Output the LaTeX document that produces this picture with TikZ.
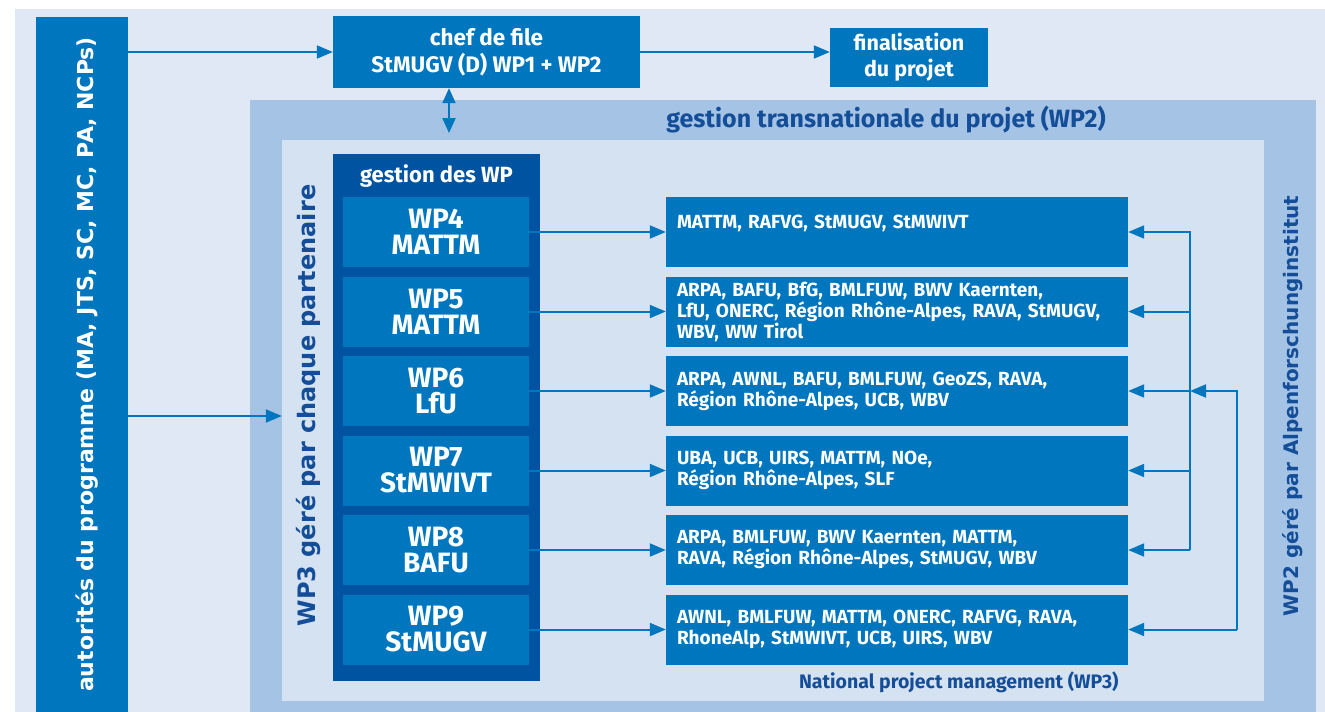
\documentclass[tikz,border=0pt]{standalone}
\usepackage{fontspec}
\setmainfont{Fira Sans}
\newfontfamily\widefont{DejaVu Sans}
\usetikzlibrary{arrows.meta}
\definecolor{bgblue}{HTML}{DFE8F4}
\definecolor{frameblue}{HTML}{A5C3E4}
\definecolor{innerblue}{HTML}{D5E2F2}
\definecolor{boxblue}{HTML}{0076BE}
\definecolor{darkbox}{HTML}{0053A0}
\definecolor{textblue}{HTML}{144E98}
\tikzset{box/.style={fill=boxblue, text=white, inner sep=0pt, align=center},
 wpbox/.style={box, minimum width=186pt, minimum height=70pt,
   font=\fontsize{28}{26}\selectfont\bfseries},
 resbox/.style={box, minimum width=462pt, minimum height=70pt, text width=440pt,
   align=left, font=\fontsize{19}{21}\selectfont\bfseries},
 line/.style={draw=boxblue, line width=2pt},
 link/.style={line, -{Triangle[length=16pt,width=13pt]}},
 dlink/.style={line, {Triangle[length=15pt,width=13pt]}-{Triangle[length=15pt,width=13pt]}},
 vtext/.style={rotate=90, anchor=base, inner sep=0pt},
 }

\begin{document}
\begin{tikzpicture}[x=1pt,y=-1pt]
        \useasboundingbox (0,0) rectangle (1325,712);
        \fill[bgblue] (15,9) rectangle (1325,712);
        % programme side
        \node[box, minimum width=92pt, minimum height=695pt] (prog) at (82,364.5) {};
        \node[vtext, text=white, font=\widefont\bfseries\fontsize{22}{22}\selectfont] (progtxt) at (93,364.5)
            {autorités du programme (MA, JTS, SC, MC, PA, NCPs)};
        \node[box, minimum width=307pt, minimum height=72pt, font=\fontsize{22.5}{27}\selectfont\bfseries] (chef) at (486.5,52)
            {chef de file\\StMUGV (D) WP1 + WP2};
        \node[box, minimum width=158pt, minimum height=59pt, font=\fontsize{21.5}{26}\selectfont\bfseries] (fin) at (909,57.5)
            {finalisation\\du projet};
        % frames
        \node[fill=frameblue, inner sep=0pt, minimum width=1066pt, minimum height=612pt] (gtp) at (783,406) {};
        \node[text=textblue, font=\fontsize{25}{25}\selectfont\bfseries] (gtptxt) at (886,120)
            {gestion transnationale du projet (WP2)};
        \node[fill=innerblue, inner sep=0pt, minimum width=982pt, minimum height=561pt] (inner) at (773,420.5) {};
        \node[vtext, text=textblue, font=\widefont\bfseries\fontsize{24}{24}\selectfont] (wp3txt) at (315,405.5)
            {WP3 géré par chaque partenaire};
        \node[vtext, text=textblue, font=\widefont\bfseries\fontsize{20}{20}\selectfont] (wp2txt) at (1298,406)
            {WP2 géré par Alpenforschunginstitut};
        \node[text=textblue, anchor=east, font=\fontsize{19.5}{19.5}\selectfont\bfseries] (nattxt) at (1122,682)
            {National project management (WP3)};
        % work packages
        \node[fill=darkbox, inner sep=0pt, minimum width=207pt, minimum height=527pt] (gdw) at (436.5,417.5) {};
        \node[text=white, font=\fontsize{22}{22}\selectfont\bfseries] (gdwtxt) at (436.5,176) {gestion des WP};
        \node[wpbox] (wp4) at (436,232) {WP4\\MATTM};
        \node[wpbox] (wp5) at (436,311.5) {WP5\\MATTM};
        \node[wpbox] (wp6) at (436,391) {WP6\\LfU};
        \node[wpbox] (wp7) at (436,470.5) {WP7\\StMWIVT};
        \node[wpbox] (wp8) at (436,550) {WP8\\BAFU};
        \node[wpbox] (wp9) at (436,629.5) {WP9\\StMUGV};
        % partners
        \node[resbox] (res4) at (897,232) {MATTM, RAFVG, StMUGV, StMWIVT\\\mbox{}};
        \node[resbox] (res5) at (897,311.5) {ARPA, BAFU, BfG, BMLFUW, BWV Kaernten,\\LfU, ONERC, Région Rhône-Alpes, RAVA, StMUGV,\\WBV, WW Tirol};
        \node[resbox] (res6) at (897,391) {ARPA, AWNL, BAFU, BMLFUW, GeoZS, RAVA,\\Région Rhône-Alpes, UCB, WBV};
        \node[resbox] (res7) at (897,470.5) {UBA, UCB, UIRS, MATTM, NOe,\\Région Rhône-Alpes, SLF};
        \node[resbox] (res8) at (897,550) {ARPA, BMLFUW, BWV Kaernten, MATTM,\\RAVA, Région Rhône-Alpes, StMUGV, WBV};
        \node[resbox] (res9) at (897,629.5) {AWNL, BMLFUW, MATTM, ONERC, RAFVG, RAVA,\\RhoneAlp, StMWIVT, UCB, UIRS, WBV};
        % arrows
        \coordinate (tp) at (449,133);
        \coordinate (fa) at (1190,0);
        \coordinate (fb) at (1237,0);
        \draw[link] (prog.east |- chef) -- (chef.west);
        \draw[link] (chef.east) -- (chef.east -| fin.west);
        \draw[dlink] (chef.south -| tp) -- (tp);
        \draw[link] (prog.east |- 0,416) -- (inner.west |- 0,416);
        \draw[link] (wp4) -- (res4);
        \draw[link] (wp5) -- (res5);
        \draw[link] (wp6) -- (res6);
        \draw[link] (wp7) -- (res7);
        \draw[link] (wp8) -- (res8);
        \draw[link] (wp9) -- (res9);
        \draw[link] (res8.east -| fa) |- (res4.east);
        \draw[link] (res5.east -| fa) -- (res5.east);
        \draw[link] (res6.east -| fa) -- (res6.east);
        \draw[link] (res7.east -| fa) -- (res7.east);
        \draw[link] (res8.east -| fa) -- (res8.east);
        \draw[link] (res9.east -| fb) |- (res6.east -| fa);
        \draw[link] (res9.east -| fb) -- (res9.east);
    \end{tikzpicture}
\end{document}
